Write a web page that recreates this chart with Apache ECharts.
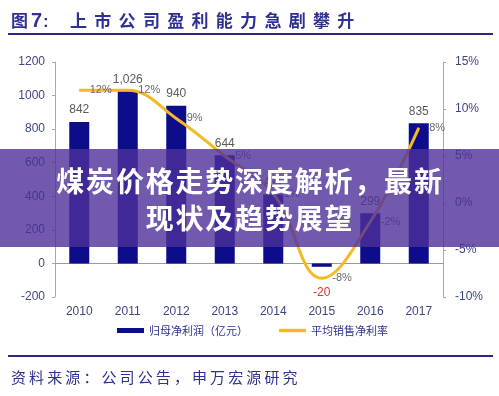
<!DOCTYPE html>
<html>
<head>
<meta charset="utf-8">
<script src="https://cdn.jsdelivr.net/npm/echarts@6/dist/echarts.min.js"></script>
<style>
html,body{margin:0;padding:0;background:#fff;}
#c{width:499px;height:396px;}
</style>
</head>
<body>
<div id="c"></div>
<script>
const categories = ['2010','2011','2012','2013','2014','2015','2016','2017'];
const profit = [842, 1026, 940, 644, 411, -20, 299, 835];
const netMargin = [12, 12, 9, 5, 1, -8, -2, 8];
const leftTicks = {min: -200, max: 1200, interval: 200};
const rightTicks = {min: -10, max: 15, interval: 5};
const titleMain = '上市公司盈利能力急剧攀升';
const footerText = '资料来源：公司公告，申万宏源研究';
const bannerLine1 = '煤炭价格走势深度解析，最新';
const bannerLine2 = '现状及趋势展望';
const seriesNames = ['归母净利润（亿元）', '平均销售净利率'];

const NAVY = '#2e3190';
const LINE_COLOR = '#f4b923';
const BAR_COLOR = '#0d0d8c';
const CJK = '"Noto Sans CJK SC", sans-serif';
const LAT = '"Liberation Sans", Arial, sans-serif';

function spaced(str, x0, y, step, style, z) {
  const out = [];
  for (let i = 0; i < str.length; i++) {
    out.push({
      type: 'text', x: x0 + i * step, y: y, z: z || 10,
      style: Object.assign({text: str[i], textAlign: 'left', textVerticalAlign: 'middle'}, style)
    });
  }
  return out;
}
function centeredSpaced(str, cx, y, step, style, z) {
  const w = str.length * step;
  return spaced(str, cx - w / 2, y, step, style, z);
}

const titleStyle = {font: 'bold 17px ' + CJK, fill: NAVY};
const bannerStyle = {font: 'bold 28px ' + CJK, fill: '#ffffff',
  shadowColor: 'rgba(0,0,0,0.8)', shadowBlur: 4, shadowOffsetX: 1, shadowOffsetY: 1};

const graphics = [].concat(
  [{type: 'text', x: 11, y: 21, style: {text: '图', font: 'bold 17px ' + CJK, fill: NAVY, textVerticalAlign: 'middle'}},
   {type: 'text', x: 31, y: 21, style: {text: '7', font: 'bold 20px ' + LAT, fill: NAVY, textVerticalAlign: 'middle'}},
   {type: 'text', x: 43, y: 22, style: {text: ':', font: 'bold 17px ' + LAT, fill: NAVY, textVerticalAlign: 'middle'}},
   {type: 'rect', shape: {x: 8, y: 33, width: 485, height: 2}, style: {fill: '#2a2a7e'}},
   {type: 'rect', shape: {x: 8, y: 355, width: 485, height: 2}, style: {fill: '#2a2a7e'}}
  ],
  spaced(titleMain, 70, 21, 24.3, titleStyle),
  spaced(footerText, 11, 377, 18.1, {font: 'normal 15px ' + CJK, fill: NAVY}),
  [{type: 'rect', z: 100, shape: {x: 0, y: 149, width: 499, height: 98}, style: {fill: 'rgba(78,48,152,0.8)'}}],
  centeredSpaced(bannerLine1, 250, 181, 29.8, bannerStyle, 110),
  centeredSpaced(bannerLine2, 250, 218, 29.8, bannerStyle, 110)
);

const barData = profit.map((v) => {
  if (v < 0) {
    return {value: v, label: {position: 'bottom', distance: 20, color: '#e0302f'}};
  }
  return v;
});

const axisLabelStyle = {color: '#3f4680', fontSize: 12, fontFamily: LAT};

const chart = echarts.init(document.getElementById('c'), null, {renderer: 'canvas'});
chart.setOption({
  animation: false,
  backgroundColor: '#ffffff',
  grid: {left: 55, right: 56, top: 62, bottom: 99, containLabel: false},
  legend: {
    left: 112, top: 320, itemGap: 31, itemWidth: 27, itemHeight: 5,
    textStyle: {color: NAVY, fontSize: 11, fontFamily: CJK},
    data: [
      {name: seriesNames[0], icon: 'rect', itemStyle: {color: BAR_COLOR}},
      {name: seriesNames[1], icon: 'path://M0,0H27V3.4H0Z', itemStyle: {color: LINE_COLOR, borderWidth: 0}}
    ]
  },
  xAxis: {
    type: 'category', data: categories,
    axisLine: {onZero: true, onZeroAxisIndex: 0, lineStyle: {color: '#9a9a9a', width: 1}},
    axisTick: {show: false},
    axisLabel: Object.assign({margin: 9}, axisLabelStyle)
  },
  yAxis: [
    {
      type: 'value', min: leftTicks.min, max: leftTicks.max, interval: leftTicks.interval,
      splitLine: {show: false},
      axisLine: {show: true, lineStyle: {color: '#aaaaaa'}},
      axisTick: {show: true, length: 3, lineStyle: {color: '#aaaaaa'}},
      axisLabel: Object.assign({margin: 10, formatter: v => String(v)}, axisLabelStyle)
    },
    {
      type: 'value', min: rightTicks.min, max: rightTicks.max, interval: rightTicks.interval,
      position: 'right',
      splitLine: {show: false},
      axisLine: {show: true, lineStyle: {color: '#aaaaaa'}},
      axisTick: {show: true, length: 3, lineStyle: {color: '#aaaaaa'}},
      axisLabel: Object.assign({margin: 12, formatter: v => v + '%'}, axisLabelStyle)
    }
  ],
  series: [
    {
      name: seriesNames[0], type: 'bar', data: barData, barWidth: 20,
      itemStyle: {color: BAR_COLOR},
      label: {
        show: true, position: 'top', distance: 6, color: '#5a5a5a', fontSize: 12,
        fontFamily: LAT,
        formatter: p => Number(p.value).toLocaleString('en-US')
      }
    },
    {
      name: seriesNames[1], type: 'line', yAxisIndex: 1, data: netMargin,
      smooth: 0.4, symbol: 'circle', symbolSize: 1, showSymbol: true,
      lineStyle: {color: LINE_COLOR, width: 3},
      itemStyle: {color: LINE_COLOR},
      label: {
        show: true, position: 'right', distance: 10, color: '#6a6a6a', fontSize: 11,
        fontFamily: LAT, formatter: p => p.value + '%'
      }
    }
  ],
  graphic: graphics
});
</script>
</body>
</html>
